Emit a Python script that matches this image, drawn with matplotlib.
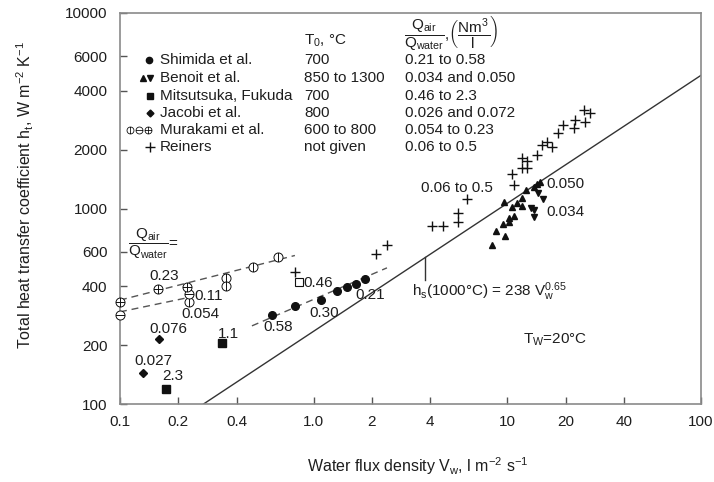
import matplotlib
matplotlib.use("Agg")
import matplotlib.pyplot as plt
from matplotlib.path import Path
import numpy as np

plt.rcParams['font.family'] = ['Liberation Sans', 'DejaVu Sans']
plt.rcParams['mathtext.fontset'] = 'custom'
plt.rcParams['mathtext.rm'] = 'Liberation Sans'
plt.rcParams['mathtext.it'] = 'Liberation Sans:italic'
plt.rcParams['mathtext.bf'] = 'Liberation Sans:bold'

# ---------------- data ----------------
shimida_v = [0.61, 0.80, 1.09, 1.32, 1.49, 1.65, 1.84]
shimida_h = [285, 317, 340, 378, 397, 411, 436]

benoit_up_v = [8.33, 9.7, 8.73, 9.49, 10.2, 10.2, 10.8, 10.6, 11.2, 11.9, 11.9, 9.6, 12.5, 13.7, 14.2, 14.8]
benoit_up_h = [651, 723, 770, 833, 852, 894, 915, 1018, 1067, 1030, 1132, 1080, 1243, 1288, 1330, 1366]
benoit_down_v = [14.4, 15.2, 13.3, 13.7, 13.8]
benoit_down_h = [1200, 1118, 1006, 982, 905]

mitsu_v = [0.336, 0.173]
mitsu_h = [205, 119]
mitsu_open_v = [0.84]
mitsu_open_h = [421]

jacobi_v = [0.159, 0.131]
jacobi_h = [215, 144]

mura_phi_v = [0.227, 0.352, 0.352, 0.486, 0.655]
mura_phi_h = [333, 441, 401, 502, 565]
mura_theta_v = [0.1, 0.227]
mura_theta_h = [285, 365]
mura_plus_v = [0.1, 0.157, 0.222]
mura_plus_h = [333, 387, 397]

reiners_v = [0.80, 2.10, 2.39, 4.08, 4.65, 5.56, 5.56, 6.18, 10.6, 10.8, 11.9, 12.6, 11.9, 12.6,
             14.2, 15.1, 16.0, 17.0, 18.2, 19.4, 22.1, 22.3, 25.2, 24.9, 26.7]
reiners_h = [473, 585, 651, 814, 814, 948, 853, 1118, 1501, 1319, 1813, 1750, 1612, 1612,
             1878, 2113, 2189, 2064, 2433, 2674, 2581, 2836, 2770, 3190, 3080]

fit_v = [0.27, 100]
fit_h = [100, 4800]
mura_upper_v = [0.1, 0.80]
mura_upper_h = [340, 575]
mura_lower_v = [0.1, 0.24]
mura_lower_h = [296, 355]
shimida_fit_v = [0.48, 2.39]
shimida_fit_h = [251, 497]

x_ticks = [0.1, 0.2, 0.4, 1.0, 2, 4, 10, 20, 40, 100]
x_ticklabels = ['0.1', '0.2', '0.4', '1.0', '2', '4', '10', '20', '40', '100']
y_ticks = [100, 200, 400, 600, 1000, 2000, 4000, 6000, 10000]
y_ticklabels = ['100', '200', '400', '600', '1000', '2000', '4000', '6000', '10000']

legend_names = ['Shimida et al.', 'Benoit et al.', 'Mitsutsuka, Fukuda', 'Jacobi et al.',
                'Murakami et al.', 'Reiners']
legend_t0 = ['700', '850 to 1300', '700', '800', '600 to 800', 'not given']
legend_q = ['0.21 to 0.58', '0.034 and 0.050', '0.46 to 2.3', '0.026 and 0.072',
            '0.054 to 0.23', '0.06 to 0.5']

# ---------------- markers ----------------
circ = Path.unit_circle()
vbar = Path([[0, -1], [0, 1]], [Path.MOVETO, Path.LINETO])
hbar = Path([[-1, 0], [1, 0]], [Path.MOVETO, Path.LINETO])
m_phi = Path.make_compound_path(circ, vbar)
m_theta = Path.make_compound_path(circ, hbar)
m_plus = Path.make_compound_path(circ, vbar, hbar)

TXT = '#1e1e1e'
MK = '#111111'
GRAY = '#8a8a8a'

fig = plt.figure(figsize=(7.14, 4.82), dpi=100)
ax = fig.add_axes([120/714, 1-404/482, 581/714, 391/482])
ax.set_xscale('log')
ax.set_yscale('log')
ax.set_xlim(0.1, 100)
ax.set_ylim(100, 10000)

# lines
ax.plot(fit_v, fit_h, color='#333333', lw=1.0, zorder=2)
dash = dict(color='#555555', lw=1.0, ls=(0, (5, 3.5)), zorder=2)
ax.plot(mura_upper_v, mura_upper_h, **dash)
ax.plot(mura_lower_v, mura_lower_h, **dash)
ax.plot(shimida_fit_v, shimida_fit_h, **dash)

# data
ax.plot(shimida_v, shimida_h, 'o', ms=5.5, color=MK, zorder=4)
ax.plot(benoit_up_v, benoit_up_h, '^', ms=5, color=MK, zorder=4)
ax.plot(benoit_down_v, benoit_down_h, 'v', ms=5, color=MK, zorder=4)
ax.plot(mitsu_v, mitsu_h, 's', ms=5.5, color=MK, zorder=4)
ax.plot(mitsu_open_v, mitsu_open_h, 's', ms=5.5, mfc='white', mec=MK, mew=0.8, zorder=4)
ax.plot(jacobi_v, jacobi_h, 'D', ms=4, color=MK, zorder=4)
for mv, mh, mk in [(mura_phi_v, mura_phi_h, m_phi), (mura_theta_v, mura_theta_h, m_theta),
                   (mura_plus_v, mura_plus_h, m_plus)]:
    ax.plot(mv, mh, ls='none', marker=mk, ms=6.5, mfc='white', mec=MK, mew=0.7, zorder=4,
            clip_on=False)
ax.plot(reiners_v, reiners_h, '+', ms=7, mew=1.0, color=MK, zorder=4)

# axes styling
for s in ax.spines.values():
    s.set_color(GRAY)
    s.set_linewidth(1.2)
ax.set_xticks(x_ticks)
ax.set_xticklabels(x_ticklabels)
ax.set_yticks(y_ticks)
ax.set_yticklabels(y_ticklabels)
ax.minorticks_off()
ax.tick_params(direction='in', length=5, width=1.0, color='#555555', labelsize=11,
               labelcolor=TXT)
ax.tick_params(axis='x', pad=8)
ax.tick_params(axis='y', pad=9)

ax.set_xlabel('Water flux density V$_\\mathregular{w}$, l m$^\\mathregular{-2}$ s$^\\mathregular{-1}$',
              fontsize=11.5, color=TXT, va='center')
ax.xaxis.set_label_coords((418-120)/581, (404-466)/391)
ax.set_ylabel('Total heat transfer coefficient h$_\\mathregular{t}$, W m$^\\mathregular{-2}$ K$^\\mathregular{-1}$',
              fontsize=11.5, color=TXT, va='center')
ax.yaxis.set_label_coords((25-120)/581, (404-195)/391)

# legend table
def fx(px):
    return (px-120)/581
def fy(py):
    return (404-py)/391

row_y = [60, 78, 96, 113, 130, 147]
tk = dict(transform=ax.transAxes, fontsize=11, color=TXT, va='center')
for i in range(6):
    ax.text(fx(160), fy(row_y[i]), legend_names[i], ha='left', **tk)
    ax.text(fx(304), fy(row_y[i]), legend_t0[i], ha='left', **tk)
    ax.text(fx(405), fy(row_y[i]), legend_q[i], ha='left', **tk)
lk = dict(transform=ax.transAxes, ls='none', color=MK, clip_on=False)
ax.plot([fx(149)], [fy(row_y[0])], 'o', ms=4.5, **lk)
ax.plot([fx(143)], [fy(row_y[1])], '^', ms=4, **lk)
ax.plot([fx(150)], [fy(row_y[1])], 'v', ms=4, **lk)
ax.plot([fx(150)], [fy(row_y[2])], 's', ms=5, **lk)
ax.plot([fx(150)], [fy(row_y[3])], 'D', ms=3.5, **lk)
for xx, mk in [(130, m_phi), (139, m_theta), (148, m_plus)]:
    ax.plot([fx(xx)], [fy(row_y[4])], marker=mk, ms=5, mfc='white', mec=MK, mew=0.6,
            transform=ax.transAxes, ls='none', clip_on=False)
ax.plot([fx(150)], [fy(row_y[5])], '+', ms=7, mew=1.0, **lk)

ax.text(fx(304), fy(41), 'T$_\\mathregular{0}$, °C', ha='left', **tk)
ax.text(fx(404), fy(33),
        r'$\mathregular{\dfrac{Q_{air}}{Q_{water}}}$,$\mathregular{\left(\dfrac{Nm^3}{l}\right)}$',
        ha='left', **tk)

# annotations
ak = dict(fontsize=11, color=TXT, ha='center', va='center', transform=ax.transAxes)
ax.text(fx(153), fy(244), r'$\mathregular{\dfrac{Q_{air}}{Q_{water}}}$=', **ak)
for s, px, py in [('0.23', 164, 276), ('0.11', 209, 296), ('0.054', 200, 314),
                  ('0.076', 168, 329), ('0.027', 153, 361), ('2.3', 173, 376),
                  ('1.1', 228, 334), ('0.46', 318, 283), ('0.58', 278, 327),
                  ('0.30', 324, 313), ('0.21', 370, 295), ('0.06 to 0.5', 457, 188),
                  ('0.050', 565, 184), ('0.034', 565, 212)]:
    ax.text(fx(px), fy(py), s, **ak)

ax.plot([fx(425), fx(425)], [fy(257), fy(280)], color='#333333', lw=1.0,
        transform=ax.transAxes)
ax.text(fx(412), fy(292),
        'h$_\\mathregular{s}$(1000°C) = 238 V$_\\mathregular{w}^\\mathregular{0.65}$',
        fontsize=11, color=TXT, ha='left', va='center', transform=ax.transAxes)
ax.text(fx(523), fy(340), 'T$_\\mathregular{W}$=20°C', fontsize=11, color=TXT,
        ha='left', va='center', transform=ax.transAxes)

fig.savefig('out.png', dpi=100)
